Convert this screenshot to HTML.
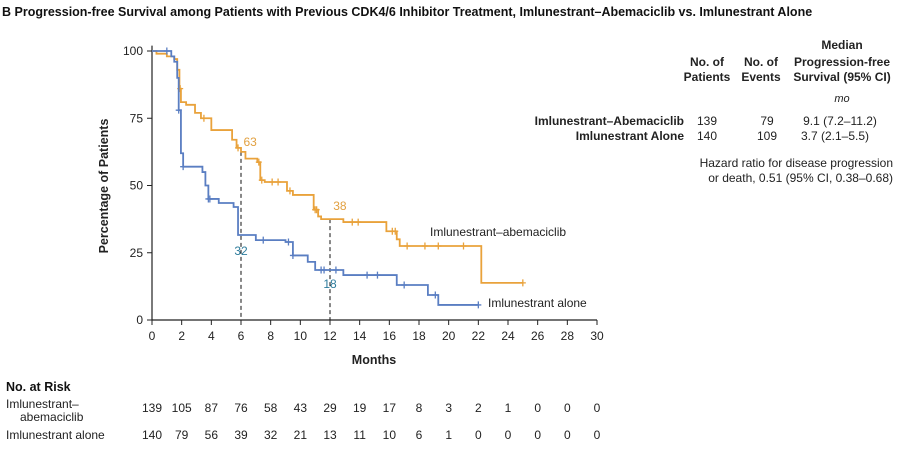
<!DOCTYPE html>
<html><head><meta charset="utf-8"><style>
body{margin:0;background:#fff;}
svg{display:block;font-family:"Liberation Sans",sans-serif;}
</style></head><body>
<svg id="c" width="906" height="450" viewBox="0 0 906 450">
<text x="2" y="16" font-size="12.5" font-weight="bold" fill="#111">B  Progression-free Survival among Patients with Previous CDK4/6 Inhibitor Treatment, Imlunestrant–Abemaciclib vs. Imlunestrant Alone</text>
<g id="axes"></g>
<g id="curves"></g>
<text transform="translate(108,186) rotate(-90)" text-anchor="middle" font-size="12.5" font-weight="bold" fill="#222">Percentage of Patients</text>
<text x="374" y="364" text-anchor="middle" font-size="12.5" font-weight="bold" fill="#222">Months</text>
<g font-size="12" fill="#222">
<g font-weight="bold" text-anchor="middle">
<text x="707" y="66">No. of</text><text x="707" y="81">Patients</text>
<text x="761" y="66">No. of</text><text x="761" y="81">Events</text>
<text x="842" y="49">Median</text><text x="842" y="66">Progression-free</text><text x="842" y="81">Survival (95% CI)</text>
<text x="684" y="125" text-anchor="end">Imlunestrant–Abemaciclib</text>
<text x="684" y="140" text-anchor="end">Imlunestrant Alone</text>
</g>
<text x="842" y="102" text-anchor="middle" font-style="italic" font-size="11">mo</text>
<text x="707" y="125" text-anchor="middle">139</text><text x="767" y="125" text-anchor="middle">79</text><text x="840" y="125" text-anchor="middle">9.1 (7.2–11.2)</text>
<text x="707" y="140" text-anchor="middle">140</text><text x="767" y="140" text-anchor="middle">109</text><text x="835" y="140" text-anchor="middle">3.7 (2.1–5.5)</text>
<text x="893" y="167" text-anchor="end">Hazard ratio for disease progression</text>
<text x="893" y="182" text-anchor="end">or death, 0.51 (95% CI, 0.38–0.68)</text>
</g>
<text x="430" y="236" font-size="12" fill="#222">Imlunestrant–abemaciclib</text>
<text x="488" y="307" font-size="12" fill="#222">Imlunestrant alone</text>
<text x="6" y="391" font-size="12.5" font-weight="bold" fill="#111">No. at Risk</text>
<text x="6" y="408" font-size="12" fill="#222">Imlunestrant–</text>
<text x="20" y="421" font-size="12" fill="#222">abemaciclib</text>
<text x="6" y="439" font-size="12" fill="#222">Imlunestrant alone</text>
<g id="risk" font-size="12" fill="#222" text-anchor="middle"></g>
</svg>
<script>
const xTicks=[0,2,4,6,8,10,12,14,16,18,20,22,24,26,28,30];
const yTicks=[0,25,50,75,100];
const comboT=[0,0.3,1.0,1.5,1.7,1.85,1.95,2.3,2.9,3.3,4.0,5.4,5.7,6.0,6.3,7.1,7.3,7.6,9.1,9.5,10.9,11.2,11.4,12.9,15.8,16.5,16.7,22.2,25];
const comboS=[100,99,98,97,93,86,81,80,77,75,70.6,67,64,62.5,60,58.7,52,51.3,48,46.5,41,38.5,37.5,36.4,33,30,27.5,13.8,13.8];
const aloneT=[0,1.3,1.5,1.7,1.8,1.95,2.1,3.4,3.6,3.8,4.5,5.5,5.8,7,9,9.5,10.5,11,12.9,16.5,18.6,19.3,22];
const aloneS=[100,98,96,90,78,62,57,55,50,45,43.5,42,31.6,29.7,29,24,21.6,18.6,16.7,13,9.3,5.6,5.6];
const comboCens=[1.9,3.5,5.8,7.2,7.4,8.1,8.5,9.3,11.0,11.1,13.5,13.9,16.2,16.4,17.2,18.4,19.3,21.0,25];
const aloneCens=[1.0,1.8,2.1,3.8,3.9,7.5,9.2,9.5,11.4,11.6,12.4,14.5,15.2,17.0,19.1,22];
const riskCombo=[139,105,87,76,58,43,29,19,17,8,3,2,1,0,0,0];
const riskAlone=[140,79,56,39,32,21,13,11,10,6,1,0,0,0,0,0];
const X=t=>152+t*(445/30), Y=s=>320-s*2.69;
const NS='http://www.w3.org/2000/svg';
function mk(tag,attrs,parent){const e=document.createElementNS(NS,tag);for(const k in attrs)e.setAttribute(k,attrs[k]);parent.appendChild(e);return e;}
const axes=document.getElementById('axes');
let ax=mk('path',{d:`M152,${Y(102)}V320H597`,stroke:'#222','stroke-width':1.2,fill:'none'},axes);


xTicks.forEach(t=>{
 const l=mk('line',{x1:X(t),x2:X(t),y1:320,y2:325,stroke:'#222'},axes);
 
 
 const tx=mk('text',{x:X(t),y:340,'text-anchor':'middle','font-size':12,fill:'#222'},axes);tx.textContent=t;
 
 
});
yTicks.forEach(s=>{
 const l=mk('line',{x1:147,x2:152,y1:Y(s),y2:Y(s),stroke:'#222'},axes);
 
 
 const tx=mk('text',{x:143,y:Y(s)+4,'text-anchor':'end','font-size':12,fill:'#222'},axes);tx.textContent=s;
 
 
});
function sAt(T,S,t){let v=S[0];for(let i=0;i<T.length;i++){if(T[i]<=t)v=S[i];}return v;}
const cur=document.getElementById('curves');
[[6,63],[12,38]].forEach(([t,s])=>{
 const l=mk('line',{x1:X(t),x2:X(t),y1:Y(sAt(comboT,comboS,t)),y2:320,stroke:'#111','stroke-dasharray':'4,3'},cur);
 
 
});
function curve(T,S,C,col,name){
 let d=`M${X(T[0])},${Y(S[0])}`;
 for(let i=1;i<T.length;i++){d+=`H${X(T[i])}V${Y(S[i])}`;}
 const p=mk('path',{d,stroke:col,'stroke-width':1.8,fill:'none'},cur);
 
 
 C.forEach(t=>{const x=X(t),y=Y(sAt(T,S,t));
  const m=mk('path',{d:`M${x},${y-3.5}V${y+3.5}M${x-3},${y}H${x+3}`,stroke:col,'stroke-width':1.3},cur);
  
  });
}
curve(comboT,comboS,comboCens,'#E9A23B','combo');
curve(aloneT,aloneS,aloneCens,'#5A7EC2','alone');
[[6.1,142,'63','#E2A040'],[12.15,206,'38','#E2A040']].forEach(([t,y,s,c])=>{const e=mk('text',{x:X(t)+1,y:y+4,'font-size':12,fill:c},cur);e.textContent=s;
 
 });
[[6,255,'32'],[12,288,'18']].forEach(([t,y,s])=>{const e=mk('text',{x:X(t),y:y,'font-size':12,fill:'#2E7C9C','text-anchor':'middle'},cur);e.textContent=s;
 
 });
const risk=document.getElementById('risk');
xTicks.forEach((t,i)=>{
 const a=mk('text',{x:X(t),y:412},risk);a.textContent=riskCombo[i];
 
 
 const b=mk('text',{x:X(t),y:439},risk);b.textContent=riskAlone[i];
 
 
});
</script>
</body></html>
